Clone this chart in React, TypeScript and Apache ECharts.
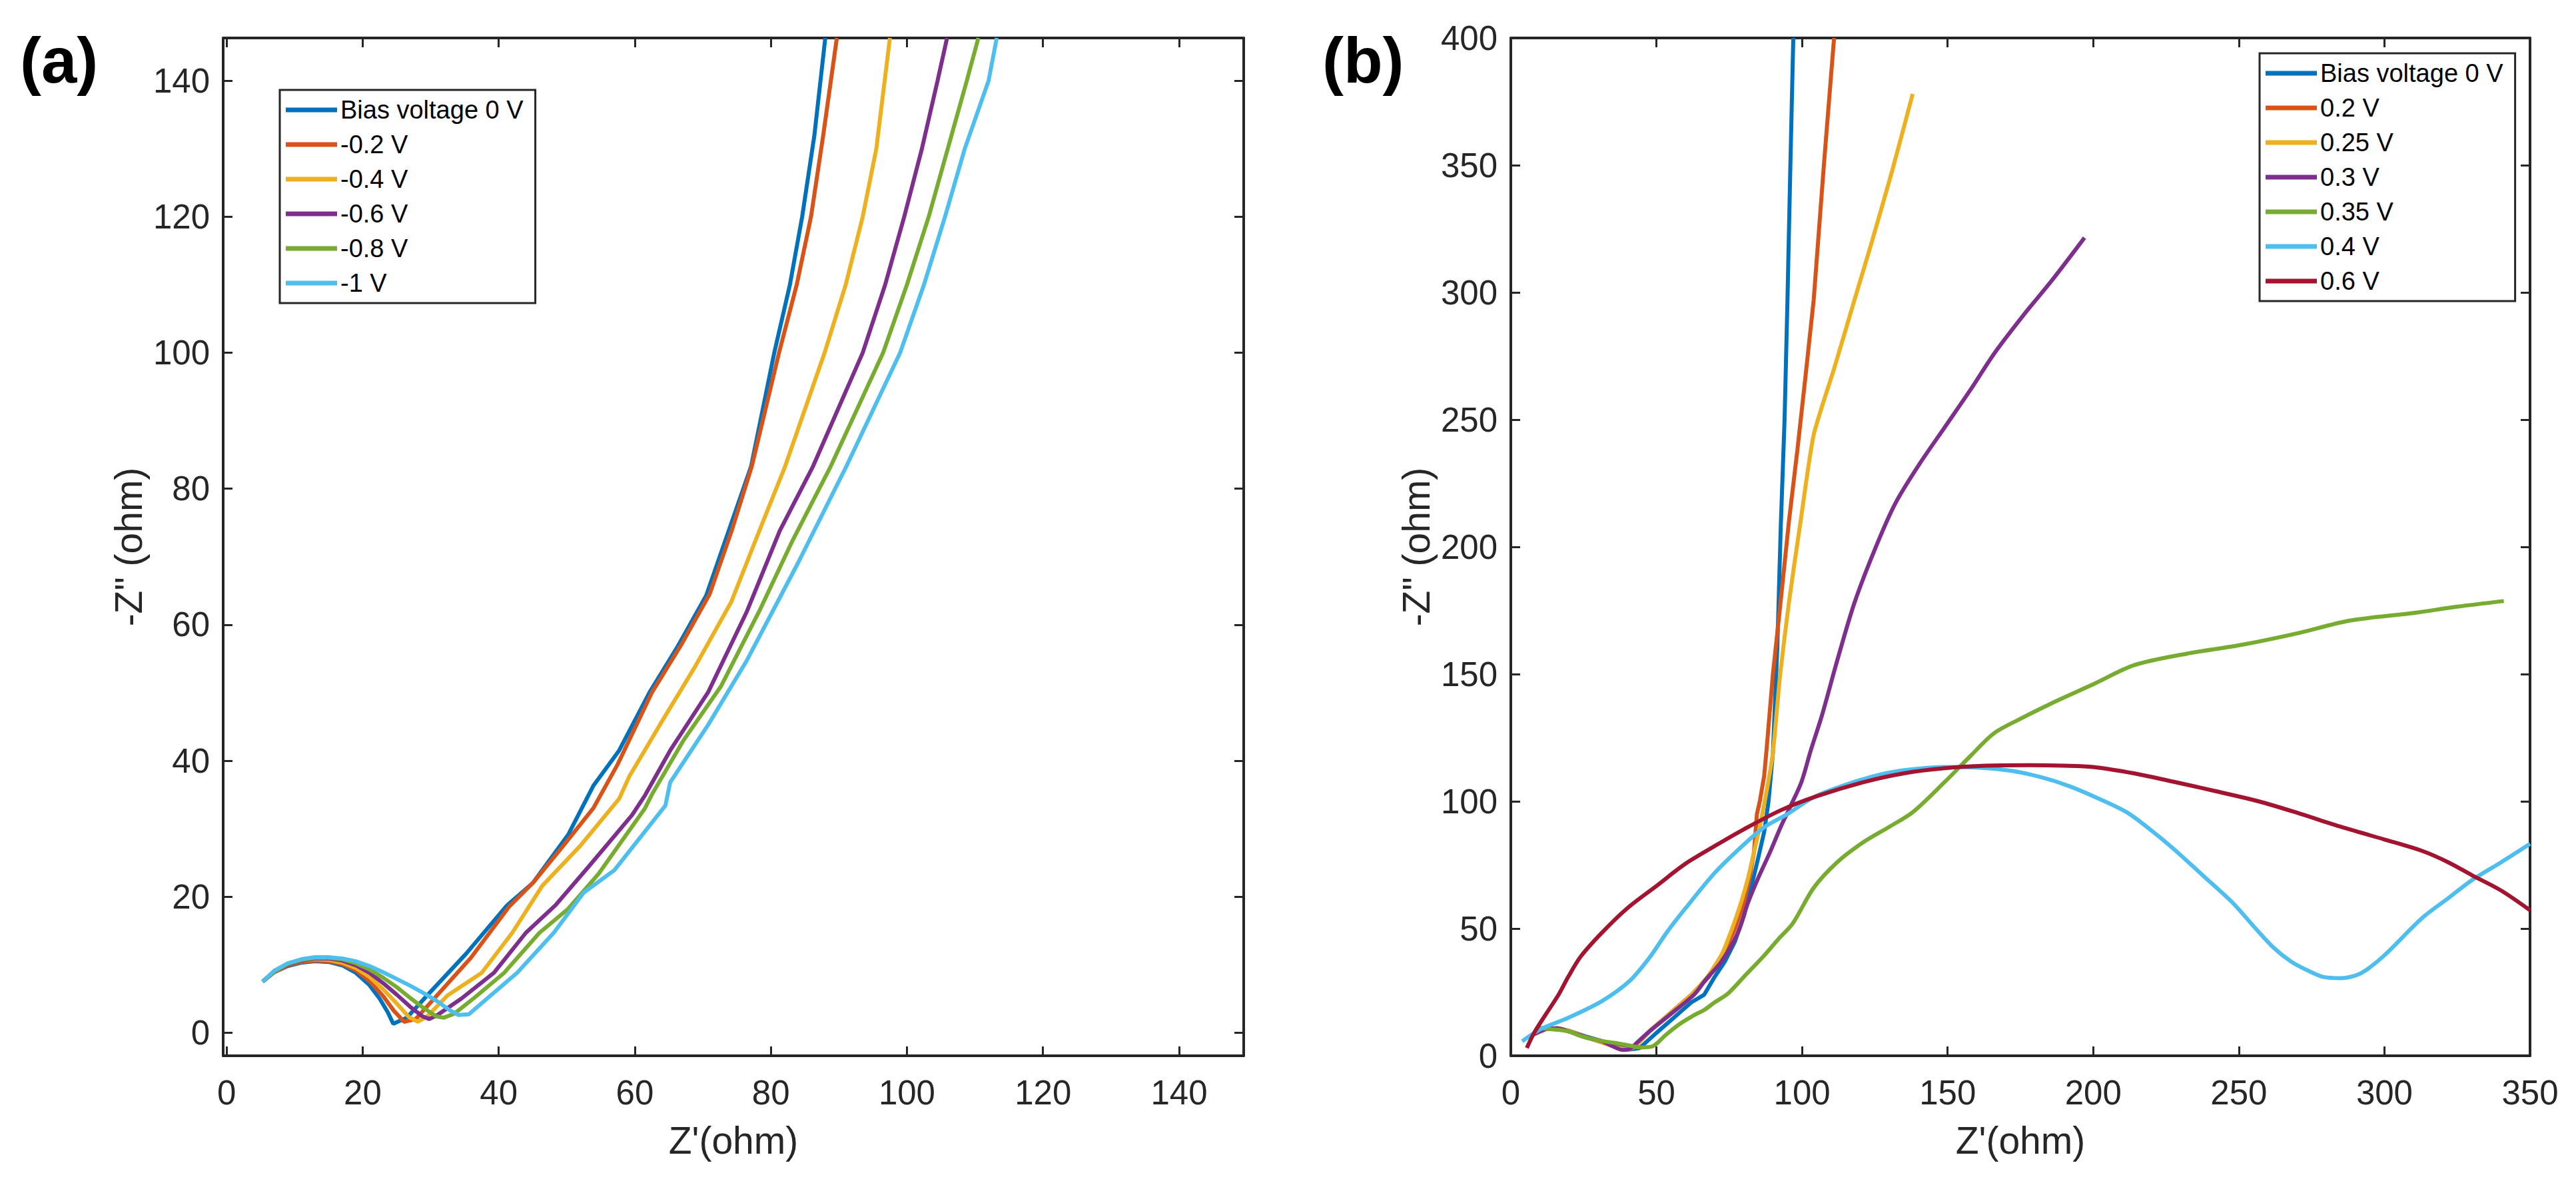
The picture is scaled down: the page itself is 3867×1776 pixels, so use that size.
import { useEffect, useRef } from 'react';
import * as echarts from 'echarts';

const FONT = '"Liberation Sans", Arial, sans-serif';
const INK = '#262626';

const COLORS = ['#0072BD', '#D95319', '#EDB120', '#7E2F8E', '#77AC30', '#4DBEEE', '#A2142F'];

// panel (a): negative bias
const namesA = ['Bias voltage 0 V', '-0.2 V', '-0.4 V', '-0.6 V', '-0.8 V', '-1 V'];

const a0V = [
  [5.3, 7.5], [7, 8.9], [9, 9.8], [11, 10.3], [13, 10.5], [15, 10.4], [17, 9.9], [19, 8.8],
  [21, 7.0], [22.5, 5.0], [23.7, 3.0], [24.5, 1.3], [26.5, 2.2], [29.6, 5.6], [35.2, 11.6],
  [41.2, 18.7], [45, 22], [50.2, 29.1], [53.9, 36.3], [57.7, 41.5], [62.2, 50.1], [66.3, 56.8],
  [70.5, 64.3], [73.8, 73.8], [77.1, 83.3], [80.5, 100], [82.8, 110], [84.6, 120], [86.4, 132],
  [88.0, 146.3],
];
const aM02 = [
  [5.3, 7.5], [7, 8.9], [9, 9.9], [11, 10.4], [13, 10.6], [15, 10.5], [17, 10.1], [19, 9.2],
  [21, 7.6], [23, 5.4], [24.6, 3.2], [26.1, 1.6], [27.8, 2.0], [30.5, 5.0], [35.9, 11.0],
  [41.5, 18.5], [45, 22], [49.5, 27.5], [53.9, 33], [57.5, 39.5], [62.5, 50], [66.8, 57],
  [71, 64.5], [74.3, 74], [77.2, 83.3], [81.2, 100], [83.8, 110], [85.9, 120], [87.7, 132],
  [89.7, 146.3],
];
const aM04 = [
  [5.3, 7.5], [7, 9], [9, 10], [11, 10.6], [13, 10.8], [15, 10.7], [17, 10.3], [19, 9.5],
  [21, 8.2], [23, 6.4], [25, 4.3], [26.8, 2.3], [28.1, 1.6], [29.5, 2.4], [32.5, 5.5],
  [37.5, 8.8], [42, 14.7], [46.4, 21.6], [52, 27.5], [57.7, 34.4], [59.2, 37.7], [63.7, 45.3],
  [68.9, 53.9], [74.2, 63.4], [78.3, 73.8], [82.1, 83.3], [87.9, 100], [91, 110], [93.5, 120],
  [95.5, 130], [97.5, 146.3],
];
const aM06 = [
  [5.3, 7.5], [7, 9], [9, 10], [11, 10.6], [13, 10.9], [15, 10.9], [17, 10.6], [19, 9.9],
  [21, 8.8], [23, 7.3], [25, 5.6], [27, 3.8], [28.8, 2.4], [29.8, 2.0], [31, 2.6], [34.5, 5],
  [39.3, 8.8], [44, 14.7], [48.3, 18.7], [53.2, 24.4], [59.6, 32], [61.5, 34.9], [65.2, 41.5],
  [70.8, 50.1], [76.5, 62], [81.3, 73.8], [86.2, 83.3], [93.5, 100], [96.8, 110], [99.6, 120],
  [102.2, 130], [104.5, 140], [105.9, 146.3],
];
const aM08 = [
  [5.3, 7.5], [7, 9], [9, 10.1], [11, 10.7], [13, 11], [15, 11], [17, 10.8], [19, 10.2],
  [21, 9.3], [23, 8.1], [25, 6.7], [27, 5.1], [29, 3.6], [30.8, 2.4], [31.9, 2.2], [33.5, 2.8],
  [36.5, 5.2], [40.8, 8.8], [46, 14.7], [50.2, 18.2], [54.7, 23.4], [61.5, 33], [62.5, 35],
  [67.1, 42.9], [72.7, 51], [78.3, 62], [83.2, 72.4], [88.8, 83.3], [96.5, 100], [100, 110],
  [103.2, 120], [106, 130], [108.8, 140], [110.5, 146.3],
];
const aM1 = [
  [5.3, 7.5], [7, 9.1], [9, 10.2], [11, 10.8], [13, 11.1], [15, 11.1], [17, 10.9], [19, 10.5],
  [21, 9.8], [23, 8.9], [25, 7.9], [27, 6.9], [29, 5.8], [31, 4.6], [32.8, 3.3], [34.1, 2.6],
  [35.6, 2.7], [38.5, 5.2], [42.7, 8.8], [48.1, 14.7], [52.5, 20.6], [57, 23.9], [64.5, 33.4],
  [65.2, 36.8], [70.8, 45.3], [76.5, 54.8], [84, 69.1], [91.1, 83.3], [99, 100], [102.5, 110],
  [105.6, 120], [108.5, 130], [112, 140], [113.2, 146.3],
];
const dataA = [a0V, aM02, aM04, aM06, aM08, aM1];

// panel (b): positive bias
const namesB = ['Bias voltage 0 V', '0.2 V', '0.25 V', '0.3 V', '0.35 V', '0.4 V', '0.6 V'];

const b0V = [
  [8, 8.5], [12, 10.5], [16, 10.8], [20, 9.8], [26, 7.5], [32, 5.5], [37, 3.5], [41, 2.5],
  [44.2, 3.0], [50, 9], [56, 15], [62, 21], [66.4, 24], [70, 31], [73.5, 37], [77, 45],
  [80, 55], [82.5, 66], [85, 78], [87, 88], [88.5, 100], [90, 119], [91.5, 160], [92.7, 208],
  [94, 250], [95, 297], [96, 350], [97, 400],
];
const b02 = [
  [8, 8.5], [12, 10.5], [16, 10.8], [20, 9.8], [26, 7.2], [32, 5], [37, 3], [40.5, 2.5],
  [43, 4], [48, 10], [55, 17], [62, 24], [68, 31], [73, 40], [77, 50], [80, 60], [82, 70],
  [83.5, 80], [84.5, 95], [85.5, 100], [87, 110], [87.8, 120], [90, 150], [92.7, 179],
  [95.5, 210], [98.4, 238], [101, 265], [104, 297], [107.5, 350], [111, 400],
];
const b025 = [
  [8, 8.5], [12, 10.5], [16, 10.8], [20, 9.8], [26, 7.2], [32, 5], [37, 3], [40.5, 2.5],
  [43, 4], [48, 10], [55, 17], [62, 24], [67.5, 31], [72.5, 40], [76, 50], [79, 60],
  [81.5, 70], [83.5, 80], [85.5, 90], [88, 105], [90, 119], [92.5, 150], [95.6, 179],
  [99.5, 210], [104, 244], [111, 270], [118, 297], [124, 320], [131, 348], [138, 378],
];
const b03 = [
  [8, 8.5], [12, 10.5], [16, 10.8], [20, 9.5], [25.6, 7.3], [31.3, 5.7], [36, 3.2], [38.5, 2.3],
  [41, 2.8], [43, 4.8], [48, 10], [54.7, 16.2], [62.9, 24], [67, 30], [72.3, 37], [78, 48.4],
  [81.4, 60], [85, 70], [89, 80], [92.7, 90], [96, 98], [99.8, 107.6], [103, 120], [106.9, 134],
  [112, 155], [118, 178], [125, 199], [132, 217], [140, 232], [149, 247], [158, 262],
  [166, 276], [176, 291], [186, 305], [197, 321.5],
];
const b035 = [
  [9.3, 11.3], [11.4, 10.7], [16.4, 10.2], [20, 9.5], [24.9, 7.4], [31.3, 5.8], [36.2, 5.0],
  [40, 4.2], [44.7, 3.3], [49, 3.9], [53, 8], [58, 12.5], [63, 16], [66.4, 18], [70, 21],
  [74.6, 24.5], [80, 31], [87, 39.4], [92, 46], [96.8, 52], [104, 66], [112, 76], [121, 83.9],
  [130, 90], [138, 95.7], [149, 107.6], [158, 118], [166, 126.8], [176, 133], [186, 138.7],
  [200, 146], [214, 153.5], [232, 158], [251, 161.5], [270, 166], [288, 171], [310, 174],
  [325, 176.5], [341, 178.7],
];
const b04 = [
  [3.9, 5.7], [10.3, 10.5], [19.7, 14.9], [31.3, 21.5], [40.7, 29.3], [47.7, 38.7], [53.5, 48.4],
  [60, 58], [70.1, 72], [80, 83], [87, 89.8], [95, 95], [104, 101.6], [115, 106.5],
  [126.7, 110.5], [137, 112.5], [149, 113.5], [160, 113.3], [172, 112], [182, 109.5],
  [191.7, 106], [202, 101], [211.5, 95.7], [220, 88.5], [228, 80.9], [238, 70.5], [248, 60],
  [255, 51], [262, 42.4], [268, 37], [273.7, 33.5], [279, 31], [285, 30.5], [290, 31.5],
  [293.5, 33.5], [300, 39.5], [313, 54.2], [322, 62], [330, 69], [340, 76], [350, 83.3],
];
const b06 = [
  [5.5, 3.1], [8, 9], [11.4, 15.2], [16.4, 24], [19.7, 31], [24, 39], [31.3, 48.4], [40, 58],
  [50.3, 67], [60, 75.5], [70.1, 82.5], [80, 89], [92.7, 96.5], [105, 102], [121, 107.5],
  [135, 111], [149, 113], [163, 114], [177.5, 114.2], [190, 114], [200, 113.5], [214, 111],
  [228, 107.6], [242, 104], [256.8, 100], [270, 95.5], [285, 90], [300, 85], [313, 80.5],
  [322, 76], [330, 71], [340, 65], [350, 57.2],
];
const dataB = [b0V, b02, b025, b03, b035, b04, b06];
const smoothB = [0, 0, 0.2, 0.3, 0.3, 0.3, 0.3];

const ticksA = [0, 20, 40, 60, 80, 100, 120, 140];

const axisBase = (extra: any) => ({
  type: 'value',
  splitLine: { show: false },
  axisLine: { show: true, onZero: false, lineStyle: { color: INK, width: 4 } },
  axisTick: { show: true, inside: true, length: 14, lineStyle: { color: INK, width: 3 } },
  axisLabel: { color: INK, fontSize: 51, fontFamily: FONT },
  nameTextStyle: { color: INK, fontSize: 57, fontFamily: FONT },
  ...extra,
});

const App = () => {
  const chartRef = useRef<HTMLDivElement>(null);

  useEffect(() => {
    if (!chartRef.current) return;
    document.body.style.margin = '0';
    const myChart = echarts.init(chartRef.current, null, { renderer: 'svg' });

    const xA = { min: -0.5, max: 149.5 };
    const yA = { min: -3.4, max: 146.3 };
    const customA = (show: boolean, margin: number) => ({
      axisTick: { show: true, inside: true, length: 14, customValues: ticksA, lineStyle: { color: INK, width: 3 } },
      axisLabel: { show, customValues: ticksA, color: INK, fontSize: 51, fontFamily: FONT, margin },
    });

    const lineSeries = (name: string, data: number[][], color: string, xi: number, yi: number, smooth: number) => ({
      name,
      type: 'line',
      data,
      xAxisIndex: xi,
      yAxisIndex: yi,
      showSymbol: false,
      symbol: 'none',
      smooth: smooth > 0 ? smooth : false,
      color,
      lineStyle: { color, width: 6 },
      itemStyle: { color },
    });

    const legendBase = {
      orient: 'vertical',
      icon: 'rect',
      itemWidth: 77,
      itemHeight: 7,
      itemGap: 14,
      padding: [11, 18, 11, 9],
      borderColor: INK,
      borderWidth: 3,
      backgroundColor: '#fff',
      selectedMode: false,
      textStyle: { fontSize: 38, color: '#000', fontFamily: FONT },
    };

    const option = {
      animation: false,
      backgroundColor: '#fff',
      grid: [
        { left: 335, top: 57, width: 1532, height: 1528 },
        { left: 2268, top: 57, width: 1530, height: 1528 },
      ],
      xAxis: [
        axisBase({ gridIndex: 0, position: 'bottom', ...xA, ...customA(true, 30), name: "Z'(ohm)", nameLocation: 'middle', nameGap: 98 }),
        axisBase({ gridIndex: 0, position: 'top', ...xA, ...customA(false, 30) }),
        axisBase({ gridIndex: 1, position: 'bottom', min: 0, max: 350, interval: 50, name: "Z'(ohm)", nameLocation: 'middle', nameGap: 98, axisLabel: { color: INK, fontSize: 51, fontFamily: FONT, margin: 30 } }),
        axisBase({ gridIndex: 1, position: 'top', min: 0, max: 350, interval: 50, axisLabel: { show: false } }),
      ],
      yAxis: [
        axisBase({ gridIndex: 0, position: 'left', ...yA, ...customA(true, 20), name: '-Z" (ohm)', nameLocation: 'middle', nameGap: 114 }),
        axisBase({ gridIndex: 0, position: 'right', ...yA, ...customA(false, 20) }),
        axisBase({ gridIndex: 1, position: 'left', min: 0, max: 400, interval: 50, name: '-Z" (ohm)', nameLocation: 'middle', nameGap: 114, axisLabel: { color: INK, fontSize: 51, fontFamily: FONT, margin: 20 } }),
        axisBase({ gridIndex: 1, position: 'right', min: 0, max: 400, interval: 50, axisLabel: { show: false } }),
      ],
      legend: [
        { ...legendBase, data: namesA, left: 420, top: 135 },
        { ...legendBase, data: namesB, left: 3392, top: 80 },
      ],
      graphic: [
        { type: 'text', x: 30, y: 42, style: { text: '(a)', font: `bold 96px ${FONT}`, fill: '#000' } },
        { type: 'text', x: 1985, y: 42, style: { text: '(b)', font: `bold 96px ${FONT}`, fill: '#000' } },
      ],
      series: [
        ...dataA.map((d, i) => lineSeries(namesA[i], d, COLORS[i], 0, 0, 0)),
        ...dataB.map((d, i) => lineSeries(namesB[i], d, COLORS[i], 2, 2, smoothB[i])),
      ],
    };

    myChart.setOption(option);

    const handleResize = () => myChart.resize();
    window.addEventListener('resize', handleResize);
    return () => {
      window.removeEventListener('resize', handleResize);
      myChart.dispose();
    };
  }, []);

  return <div ref={chartRef} style={{ width: '3867px', height: '1776px' }} />;
};

export default App;
